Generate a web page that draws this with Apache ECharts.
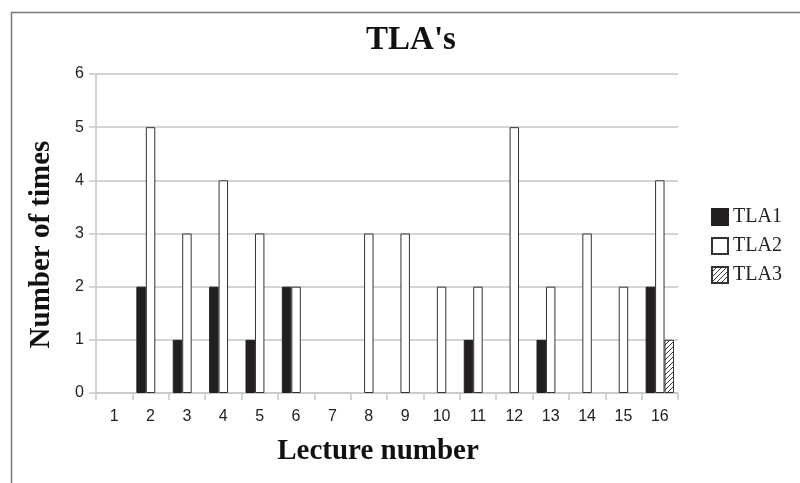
<!DOCTYPE html>
<html>
<head>
<meta charset="utf-8">
<script src="https://cdn.jsdelivr.net/npm/echarts@6/dist/echarts.min.js"></script>
<style>
  html, body { margin: 0; padding: 0; background: #fff; }
  #chart { width: 800px; height: 483px; }
</style>
</head>
<body>
<div id="chart"></div>
<script>
var lectures = ['1', '2', '3', '4', '5', '6', '7', '8', '9', '10', '11', '12', '13', '14', '15', '16'];
var tla1 = [0, 2, 1, 2, 1, 2, 0, 0, 0, 0, 1, 0, 1, 0, 0, 2];
var tla2 = [0, 5, 3, 4, 3, 2, 0, 3, 3, 2, 2, 5, 2, 3, 2, 4];
var tla3 = [0, 0, 0, 0, 0, 0, 0, 0, 0, 0, 0, 0, 0, 0, 0, 1];
var yTicks = [0, 1, 2, 3, 4, 5, 6];

var serif = '"Liberation Serif", "Times New Roman", serif';
var sans = '"Liberation Sans", Arial, sans-serif';
var gridColor = '#c6c6c6';

// diagonal hatch for TLA3
function hatch() {
  var c = document.createElement('canvas');
  c.width = 5;
  c.height = 5;
  var ctx = c.getContext('2d');
  ctx.fillStyle = '#fff';
  ctx.fillRect(0, 0, 5, 5);
  ctx.strokeStyle = '#222';
  ctx.lineWidth = 0.9;
  ctx.beginPath();
  ctx.moveTo(-1, 6); ctx.lineTo(6, -1);
  ctx.moveTo(-1, 1); ctx.lineTo(1, -1);
  ctx.moveTo(4, 6); ctx.lineTo(6, 4);
  ctx.stroke();
  return c;
}

// zeros draw no bar
function bars(arr) {
  return arr.map(function (v) { return v === 0 ? '-' : v; });
}

var chart = echarts.init(document.getElementById('chart'));

var option = {
  animation: false,
  backgroundColor: '#fff',
  graphic: [{
    type: 'rect',
    left: 9,
    top: 10,
    shape: { width: 1000, height: 1000 },
    style: { fill: 'none', stroke: '#7a7a7a', lineWidth: 1.5 },
    silent: true
  }],
  title: {
    text: "TLA's",
    left: 406,
    top: 19,
    textAlign: 'center',
    textStyle: { fontFamily: serif, fontSize: 33, fontWeight: 'bold', color: '#111' }
  },
  legend: {
    orient: 'vertical',
    left: 706,
    top: 202,
    itemWidth: 16,
    itemHeight: 16,
    itemGap: 9,
    icon: 'rect',
    textStyle: { fontFamily: serif, fontSize: 20, color: '#222' },
    data: ['TLA1', 'TLA2', 'TLA3']
  },
  grid: {
    left: 96,
    right: 122,
    top: 74,
    bottom: 90
  },
  xAxis: {
    type: 'category',
    data: lectures,
    name: 'Lecture number',
    nameLocation: 'middle',
    nameGap: 44,
    nameTextStyle: { fontFamily: serif, fontSize: 29, fontWeight: 'bold', color: '#111', padding: [0, 18, 0, 0] },
    axisLine: { lineStyle: { color: gridColor, width: 1.5 } },
    axisTick: { show: true, length: 7, lineStyle: { color: gridColor, width: 1.5 } },
    axisLabel: { fontFamily: sans, fontSize: 16, color: '#222', margin: 16 }
  },
  yAxis: {
    type: 'value',
    min: yTicks[0],
    max: yTicks[yTicks.length - 1],
    interval: 1,
    name: 'Number of times',
    nameLocation: 'middle',
    nameGap: 40,
    nameTextStyle: { fontFamily: serif, fontSize: 29, fontWeight: 'bold', color: '#111', padding: [0, 22, 0, 0] },
    axisLine: { show: true, lineStyle: { color: gridColor, width: 1.5 } },
    axisTick: { show: true, length: 7, lineStyle: { color: gridColor, width: 1.5 } },
    axisLabel: { fontFamily: sans, fontSize: 16, color: '#222', margin: 12 },
    splitLine: { show: true, lineStyle: { color: gridColor, width: 1.5 } }
  },
  series: [
    {
      name: 'TLA1',
      type: 'bar',
      barGap: 0,
      barCategoryGap: '22%',
      data: bars(tla1),
      itemStyle: { color: '#231f20', borderColor: '#231f20', borderWidth: 1 }
    },
    {
      name: 'TLA2',
      type: 'bar',
      barGap: 0,
      barCategoryGap: '22%',
      data: bars(tla2),
      itemStyle: { color: '#fff', borderColor: '#333', borderWidth: 1 }
    },
    {
      name: 'TLA3',
      type: 'bar',
      barGap: 0,
      barCategoryGap: '22%',
      data: bars(tla3),
      itemStyle: { color: { image: hatch(), repeat: 'repeat' }, borderColor: '#333', borderWidth: 1 }
    }
  ]
};

chart.setOption(option);
</script>
</body>
</html>
